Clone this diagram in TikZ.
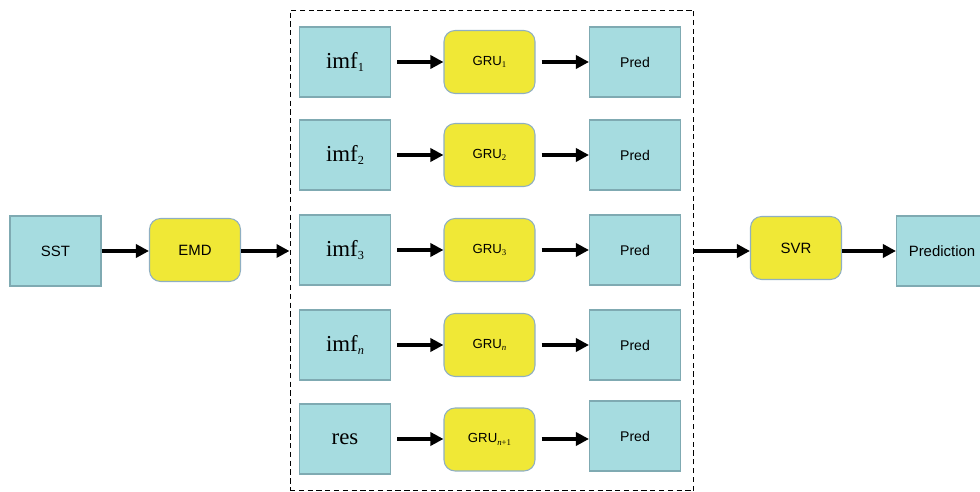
\documentclass[tikz,border=0pt]{standalone}
\usepackage{fontspec}
\setmainfont{Liberation Sans}
\newfontfamily\tnr{Liberation Serif}
\usetikzlibrary{arrows.meta}
\definecolor{cyanfill}{HTML}{A6DCE0}
\definecolor{cyanedge}{HTML}{7FAAB2}
\definecolor{yelfill}{HTML}{F0E836}
\definecolor{yeledge}{HTML}{8FAFC2}
\tikzset{
  databox/.style={draw=cyanedge, fill=cyanfill, line width=0.6pt, minimum width=1.82cm, minimum height=1.4cm, inner sep=0pt, font=\fontsize{8.5}{10}\selectfont},
  imfbox/.style={databox, font=\tnr\fontsize{13}{15}\selectfont},
  modbox/.style={draw=yeledge, fill=yelfill, line width=0.6pt, rounded corners=0.22cm, minimum width=1.82cm, minimum height=1.26cm, inner sep=0pt, font=\fontsize{8.5}{10}\selectfont},
  grubox/.style={modbox, font=\fontsize{7.5}{9}\selectfont},
  predbox/.style={databox, font=\fontsize{8}{10}\selectfont},
  flow/.style={-{Triangle[length=0.26cm,width=0.26cm]}, line width=2.3pt, black},
  gapflow/.style={flow, shorten <=0.12cm},
  frame/.style={draw, dashed, dash pattern=on 3pt off 2pt, line width=0.6pt}
}
\newcommand{\smsub}[1]{\raisebox{-0.35ex}{\fontsize{7}{8}\selectfont #1}}
\newcommand{\tinysub}[1]{\raisebox{-0.35ex}{\tnr\fontsize{5}{6}\selectfont #1}}
\begin{document}
\begin{tikzpicture}[x=0.02cm,y=-0.02cm]
\useasboundingbox (0,0) rectangle (980,492);
\node[frame, minimum width=8.08cm, minimum height=9.62cm] (box) at (492,250.5) {};
\node[databox] (sst) at (55.5,251) {SST};
\node[modbox] (emd) at (195,250) {EMD};
% rows
\node[imfbox] (i1) at (345,62) {imf\smsub{1}};
\node[grubox] (g1) at (489.5,62) {GRU\tinysub{1}};
\node[predbox] (p1) at (635,62) {Pred};
\node[imfbox] (i2) at (345,155) {imf\smsub{2}};
\node[grubox] (g2) at (489.5,155) {GRU\tinysub{2}};
\node[predbox] (p2) at (635,155) {Pred};
\node[imfbox] (i3) at (345,250) {imf\smsub{3}};
\node[grubox] (g3) at (489.5,250) {GRU\tinysub{3}};
\node[predbox] (p3) at (635,250) {Pred};
\node[imfbox] (i4) at (345,345) {imf\smsub{\itshape n}};
\node[grubox] (g4) at (489.5,345) {GRU\tinysub{\itshape n}};
\node[predbox] (p4) at (635,345) {Pred};
\node[imfbox] (i5) at (345,439) {res};
\node[grubox] (g5) at (489.5,439.5) {GRU\tinysub{\itshape n\upshape +1}};
\node[predbox] (p5) at (635,436) {Pred};
\node[modbox] (svr) at (796,248) {SVR};
\node[databox] (out) at (942,251) {Prediction};
% connectors
\draw[flow] (sst.east |- 0,251) -- (emd.west |- 0,251);
\draw[flow] (emd.east |- 0,251) -- (box.west |- 0,251);
\foreach \r/\y in {1/62,2/155,3/250,4/345,5/439}{
  \draw[gapflow] (i\r.east |- 0,\y) -- (g\r.west |- 0,\y);
  \draw[gapflow] (g\r.east |- 0,\y) -- (p\r.west |- 0,\y);
}
\draw[flow] (box.east |- 0,251) -- (svr.west |- 0,251);
\draw[flow] (svr.east |- 0,251) -- (out.west |- 0,251);
\end{tikzpicture}
\end{document}
